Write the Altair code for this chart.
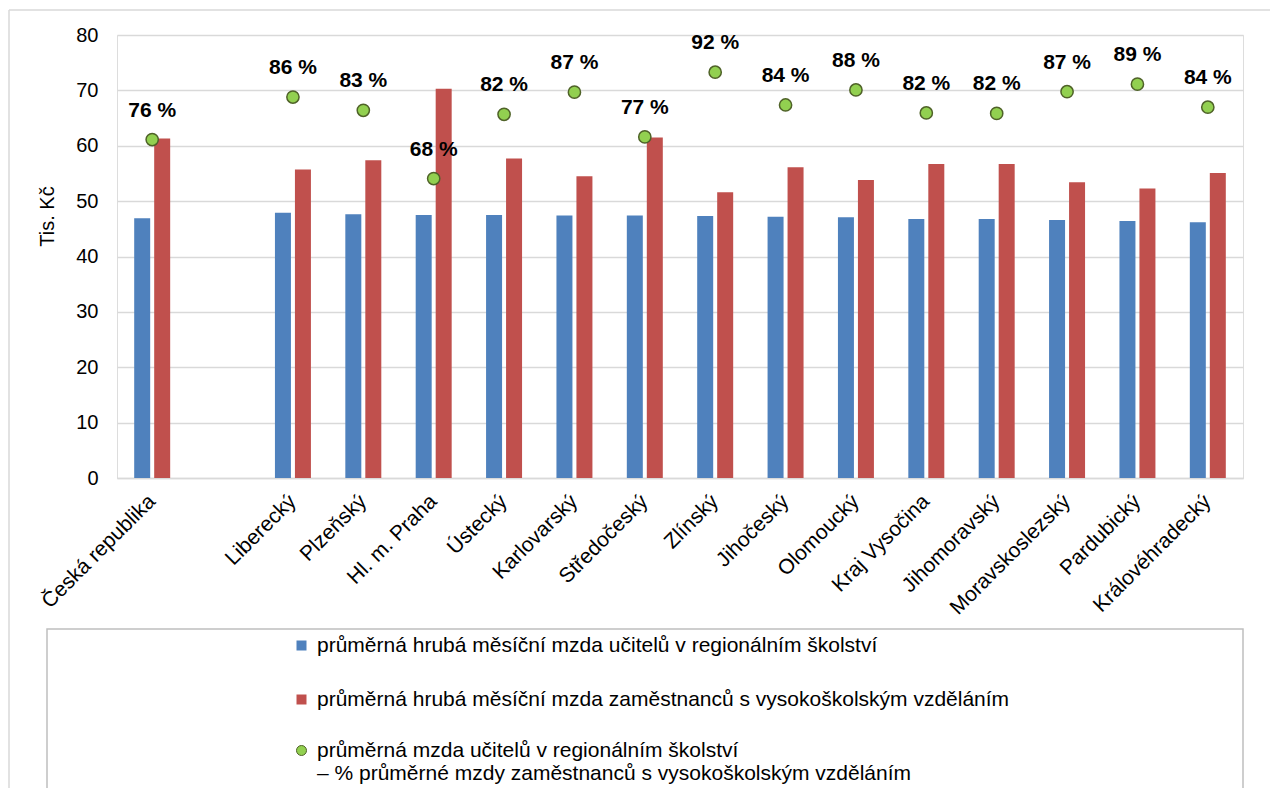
import altair as alt
import pandas as pd

FONT = "Liberation Sans"
BLUE = "#4F81BD"
RED = "#C0504D"
GREEN = "#92D050"
DKGREEN = "#4F6228"
GRID = "#D9D9D9"

regions = ["Česká republika", "Liberecký", "Plzeňský", "Hl. m. Praha", "Ústecký",
           "Karlovarský", "Středočeský", "Zlínský", "Jihočeský", "Olomoucký",
           "Kraj Vysočina", "Jihomoravský", "Moravskoslezský", "Pardubický",
           "Královéhradecký"]
x_order = [regions[0], " "] + regions[1:]

teachers = [46.9, 47.9, 47.65, 47.5, 47.5, 47.4, 47.4, 47.3, 47.2, 47.1,
            46.75, 46.75, 46.6, 46.4, 46.2]
graduates = [61.3, 55.7, 57.4, 70.3, 57.7, 54.5, 61.5, 51.6, 56.1, 53.8,
             56.7, 56.7, 53.4, 52.3, 55.1]
pct = [76.4, 86.0, 83.0, 67.6, 82.1, 87.1, 77.0, 91.6, 84.2, 87.6,
       82.4, 82.3, 87.2, 88.9, 83.7]

series_names = [
    "průměrná hrubá měsíční mzda učitelů v regionálním školství",
    "průměrná hrubá měsíční mzda zaměstnanců s vysokoškolským vzděláním",
]
dot_line1 = "průměrná mzda učitelů v regionálním školství"
dot_line2 = " – % průměrné mzdy zaměstnanců s vysokoškolským vzděláním"

bar_rows = []
for r, t, g in zip(regions, teachers, graduates):
    bar_rows.append({"region": r, "series": series_names[0], "value": t})
    bar_rows.append({"region": r, "series": series_names[1], "value": g})
bar_df = pd.DataFrame(bar_rows)

dot_df = pd.DataFrame({
    "region": regions,
    "pct": pct,
    "name": [dot_line1] * len(regions),
})

x_scale = alt.Scale(domain=x_order, paddingInner=0, paddingOuter=0)
x_axis = alt.Axis(labelAngle=-45, labelAlign="right", labelBaseline="middle",
                  labelPadding=20, labelFontSize=21, labelFont=FONT, labelColor="black",
                  ticks=False, domainColor=GRID, domainWidth=1.5, grid=False,
                  labelOverlap=False)

bars = alt.Chart(bar_df).mark_bar().encode(
    x=alt.X("region:N", scale=x_scale, axis=x_axis, title=None, sort=x_order),
    xOffset=alt.XOffset("series:N", sort=series_names,
                        scale=alt.Scale(domain=series_names, paddingInner=0.2, paddingOuter=0.86)),
    y=alt.Y("value:Q", scale=alt.Scale(domain=[0, 80], nice=False),
            axis=alt.Axis(values=list(range(0, 81, 10)), title="Tis. Kč",
                          titleFontSize=20, titleFont=FONT, titleFontWeight="normal",
                          titleColor="black", titleX=-70, titleY=181,
                          titleAlign="center", titleBaseline="middle", titleAngle=-90,
                          labelFontSize=20, labelFont=FONT, labelColor="black",
                          labelPadding=19, ticks=False, domain=False,
                          grid=True, gridColor=GRID, gridWidth=1.5)),
    color=alt.Color("series:N", scale=alt.Scale(domain=series_names, range=[BLUE, RED]),
                    legend=alt.Legend(orient="none", legendX=174, legendY=600, title=None,
                                      symbolType="square", symbolSize=100,
                                      symbolStrokeWidth=0, labelFontSize=21,
                                      labelFont=FONT, labelColor="black", labelLimit=2000,
                                      labelOffset=5, rowPadding=32, direction="vertical")),
)

dots = alt.Chart(dot_df).mark_circle(size=150, stroke=DKGREEN, strokeWidth=1.5, opacity=1).encode(
    x=alt.X("region:N", scale=x_scale, sort=x_order, title=None),
    y=alt.Y("pct:Q", scale=alt.Scale(domain=[0, 100], nice=False), axis=None),
    fill=alt.Fill("name:N", scale=alt.Scale(domain=[dot_line1], range=[GREEN]),
                  legend=alt.Legend(orient="none", legendX=174, legendY=705, title=None,
                                    symbolType="circle", symbolSize=100,
                                    symbolStrokeColor=DKGREEN, symbolStrokeWidth=1,
                                    labelFontSize=21, labelFont=FONT, labelColor="black",
                                    labelLimit=2000, labelOffset=5,
                                    labelExpr=f"['{dot_line1}', '{dot_line2}']")),
)

labels = alt.Chart(dot_df).transform_calculate(
    label="format(round(datum.pct), 'd') + ' %'"
).mark_text(dy=-29, fontSize=21, fontWeight="bold", font=FONT, color="black").encode(
    x=alt.X("region:N", scale=x_scale, sort=x_order, title=None),
    y=alt.Y("pct:Q", scale=alt.Scale(domain=[0, 100], nice=False), axis=None),
    text="label:N",
)

one = pd.DataFrame({"k": [0]})
legend_box = alt.Chart(one).mark_rect(fillOpacity=0, stroke="#BFBFBF", strokeWidth=1.5).encode(
    x=alt.value(-70), x2=alt.value(1126), y=alt.value(594), y2=alt.value(758))
outer_left = alt.Chart(one).mark_rule(color=GRID, strokeWidth=1.5).encode(
    x=alt.value(-108), y=alt.value(-25), y2=alt.value(770))
outer_top = alt.Chart(one).mark_rule(color=GRID, strokeWidth=1.5).encode(
    x=alt.value(-108), x2=alt.value(1160), y=alt.value(-25))

chart = alt.layer(outer_left, outer_top, legend_box, bars, dots, labels).resolve_scale(
    y="independent"
).properties(
    width=1126, height=443,
    padding={"left": 109, "top": 27, "right": 27, "bottom": 310},
    autosize=alt.AutoSizeParams(type="none"),
).configure_view(stroke=None).configure(font=FONT)

chart.save("out.html", embed_options={"renderer": "svg", "actions": False})
